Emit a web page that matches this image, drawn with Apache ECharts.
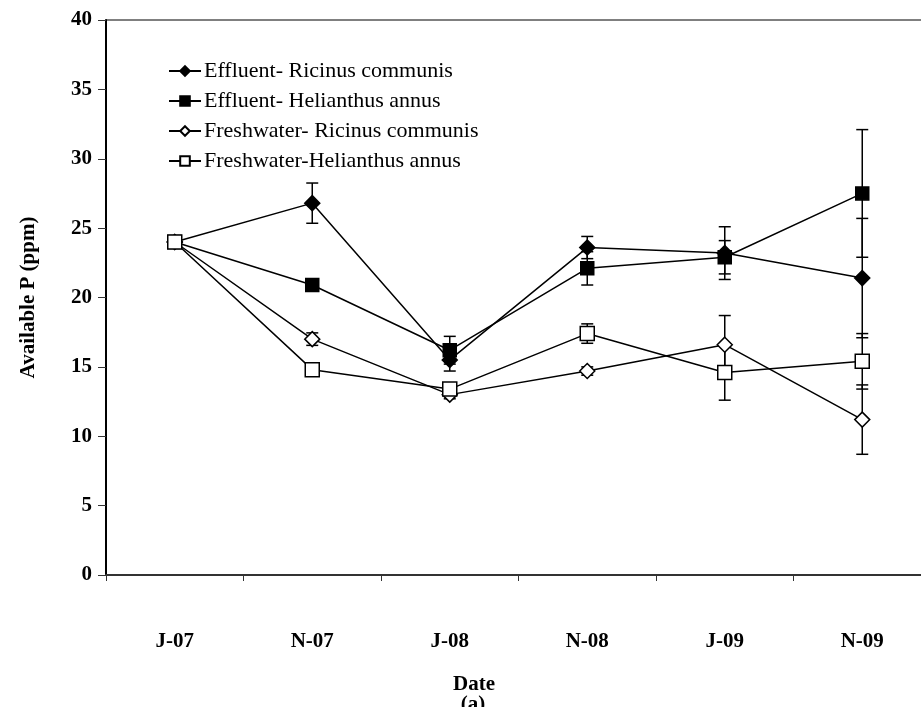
<!DOCTYPE html>
<html>
<head>
<meta charset="utf-8">
<script src="https://cdn.jsdelivr.net/npm/echarts@6/dist/echarts.min.js"></script>
<style>html,body{margin:0;padding:0;background:#fff}#c{width:921px;height:707px}</style>
</head>
<body>
<div id="c"></div>
<script>
var categories = ['J-07', 'N-07', 'J-08', 'N-08', 'J-09', 'N-09'];
var effRicinus = [24, 26.8, 15.5, 23.6, 23.2, 21.4];
var effRicinusErr = [0, 1.45, 0.8, 0.8, 1.9, 4.3];
var effHelianthus = [24, 20.9, 16.2, 22.1, 22.9, 27.5];
var effHelianthusErr = [0, 0.3, 1.0, 1.2, 1.2, 4.6];
var freshRicinus = [24, 17.0, 13.0, 14.7, 16.6, 11.2];
var freshRicinusErr = [0, 0.45, 0.3, 0.3, 2.1, 2.5];
var freshHelianthus = [24, 14.8, 13.4, 17.4, 14.6, 15.4];
var freshHelianthusErr = [0, 0.3, 0.3, 0.7, 2.0, 2.0];
var seriesNames = ['Effluent- Ricinus communis', 'Effluent- Helianthus annus', 'Freshwater- Ricinus communis', 'Freshwater-Helianthus annus'];
var xTitle = 'Date';
var yTitle = 'Available P (ppm)';
var panelLabel = '(a)';

var FONT = '"Liberation Serif","Times New Roman",serif';
var chart = echarts.init(document.getElementById('c'));

function errData(vals, errs) {
  return vals.map(function (v, i) { return [i, v - errs[i], v + errs[i]]; });
}
function errSeries(vals, errs) {
  return {
    type: 'custom',
    data: errData(vals, errs),
    z: 1,
    silent: true,
    renderItem: function (params, api) {
      var x = api.value(0);
      var lo = api.coord([x, api.value(1)]);
      var hi = api.coord([x, api.value(2)]);
      if (Math.abs(hi[1] - lo[1]) < 1) return null;
      var w = 6;
      var st = { stroke: '#000', lineWidth: 1.5 };
      return {
        type: 'group',
        children: [
          { type: 'line', shape: { x1: lo[0], y1: lo[1], x2: hi[0], y2: hi[1] }, style: st },
          { type: 'line', shape: { x1: lo[0] - w, y1: lo[1], x2: lo[0] + w, y2: lo[1] }, style: st },
          { type: 'line', shape: { x1: hi[0] - w, y1: hi[1], x2: hi[0] + w, y2: hi[1] }, style: st }
        ]
      };
    }
  };
}
function lineSeries(name, vals, symbol, filled, size) {
  return {
    name: name,
    type: 'line',
    data: vals,
    symbol: symbol,
    symbolSize: size,
    showAllSymbol: true,
    z: 3,
    lineStyle: { color: '#000', width: 1.5 },
    itemStyle: { color: filled ? '#000' : '#fff', borderColor: '#000', borderWidth: 1.5 },
    emphasis: { disabled: true },
    animation: false
  };
}

chart.setOption({
  animation: false,
  backgroundColor: '#fff',
  grid: { left: 106, top: 20, width: 825, height: 555, outerBoundsMode: 'none', containLabel: false,
          show: true, borderColor: '#000', borderWidth: 1, backgroundColor: 'transparent' },
  title: [
    { text: xTitle, left: 469, textAlign: 'center', top: 669,
      textStyle: { fontFamily: FONT, fontWeight: 'bold', fontSize: 21, color: '#000' } },
    { text: panelLabel, left: 468, textAlign: 'center', top: 689,
      textStyle: { fontFamily: FONT, fontWeight: 'bold', fontSize: 21, color: '#000' } }
  ],
  legend: {
    orient: 'vertical', left: 163, top: 55, itemGap: 8, itemWidth: 32, itemHeight: 12,
    data: seriesNames,
    textStyle: { fontFamily: FONT, fontSize: 22, color: '#000', padding: [0, 0, 0, -2] },
    inactiveColor: '#000'
  },
  xAxis: {
    type: 'category', data: categories, boundaryGap: true,
    axisLine: { lineStyle: { color: '#333', width: 2 } },
    axisTick: { show: true, alignWithLabel: false, length: 6, lineStyle: { color: '#333', width: 1 } },
    axisLabel: { margin: 56, fontFamily: FONT, fontWeight: 'bold', fontSize: 21, color: '#000' },
    splitLine: { show: false }
  },
  yAxis: {
    type: 'value', min: 0, max: 40, interval: 5,
    name: yTitle, nameLocation: 'middle', nameGap: 67,
    nameTextStyle: { fontFamily: FONT, fontWeight: 'bold', fontSize: 21, color: '#000' },
    axisLine: { show: true, lineStyle: { color: '#000', width: 2 } },
    axisTick: { show: true, length: 8, lineStyle: { color: '#333', width: 1 } },
    axisLabel: { margin: 14, fontFamily: FONT, fontWeight: 'bold', fontSize: 21, color: '#000' },
    splitLine: { show: false }
  },
  series: [
    errSeries(effRicinus, effRicinusErr),
    errSeries(effHelianthus, effHelianthusErr),
    errSeries(freshRicinus, freshRicinusErr),
    errSeries(freshHelianthus, freshHelianthusErr),
    lineSeries(seriesNames[0], effRicinus, 'diamond', true, 15),
    lineSeries(seriesNames[1], effHelianthus, 'rect', true, 13),
    lineSeries(seriesNames[2], freshRicinus, 'diamond', false, 15),
    lineSeries(seriesNames[3], freshHelianthus, 'rect', false, 14)
  ]
});
</script>
</body>
</html>
